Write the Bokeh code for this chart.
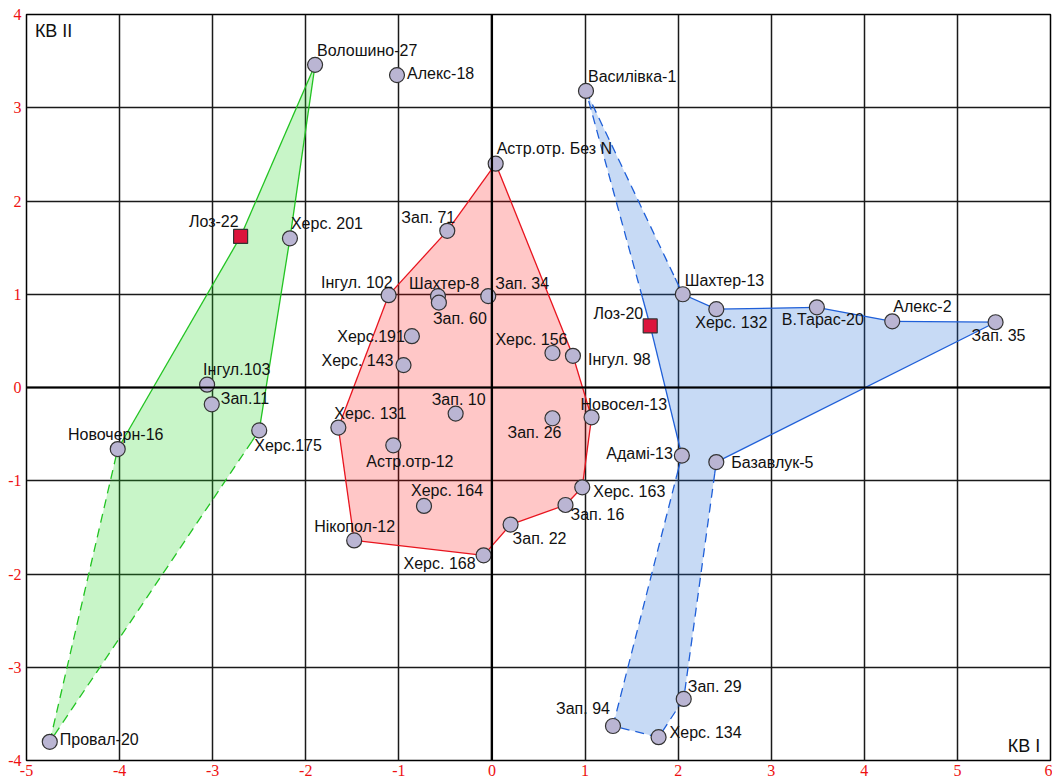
from bokeh.plotting import figure
from bokeh.models import ColumnDataSource, FixedTicker, Span, Label, Range1d, CustomJSTickFormatter
from bokeh.core.properties import value
from bokeh.embed import file_html
from bokeh.resources import INLINE

# ---------------- data ----------------
x_ticks = [-5, -4, -3, -2, -1, 0, 1, 2, 3, 4, 5, 6]
y_ticks = [-4, -3, -2, -1, 0, 1, 2, 3, 4]

site_names = [
    "Волошино-27", "Херс. 201", "Лоз-22", "Інгул.103", "Зап.11", "Херс.175",
    "Новочерн-16", "Провал-20", "Алекс-18",
    "Астр.отр. Без N", "Зап. 71", "Інгул. 102", "Шахтер-8", "Зап. 60", "Зап. 34",
    "Херс.191", "Херс. 143", "Херс. 156", "Інгул. 98", "Зап. 10", "Зап. 26",
    "Новосел-13", "Херс. 131", "Астр.отр-12", "Херс. 164", "Нікопол-12",
    "Херс. 168", "Зап. 22", "Зап. 16", "Херс. 163",
    "Василівка-1", "Лоз-20", "Шахтер-13", "Херс. 132", "В.Тарас-20", "Алекс-2",
    "Зап. 35", "Базавлук-5", "Адамі-13", "Зап. 29", "Херс. 134", "Зап. 94",
]
kv1 = [
    -1.90, -2.17, -2.70, -3.06, -3.01, -2.50, -4.02, -4.75, -1.02,
    0.04, -0.48, -1.11, -0.58, -0.57, -0.04, -0.86, -0.95, 0.65, 0.87, -0.39, 0.65,
    1.07, -1.65, -1.06, -0.73, -1.48, -0.09, 0.20, 0.79, 0.97,
    1.01, 1.70, 2.05, 2.41, 3.49, 4.30, 5.41, 2.41, 2.04, 2.06, 1.79, 1.30,
]
kv2 = [
    3.46, 1.60, 1.62, 0.03, -0.18, -0.46, -0.66, -3.80, 3.35,
    2.40, 1.68, 0.99, 0.98, 0.91, 0.98, 0.55, 0.24, 0.37, 0.34, -0.28, -0.33,
    -0.32, -0.43, -0.62, -1.27, -1.64, -1.80, -1.47, -1.26, -1.07,
    3.18, 0.66, 1.00, 0.84, 0.86, 0.71, 0.70, -0.80, -0.73, -3.34, -3.75, -3.63,
]
square_sites = ["Лоз-22", "Лоз-20"]

green_outline = ["Волошино-27", "Херс. 201", "Херс.175", "Провал-20", "Новочерн-16", "Лоз-22"]
red_outline = ["Астр.отр. Без N", "Інгул. 98", "Новосел-13", "Херс. 163", "Зап. 16", "Зап. 22",
               "Херс. 168", "Нікопол-12", "Херс. 131", "Інгул. 102", "Зап. 71"]
blue_outline = ["Василівка-1", "Шахтер-13", "Херс. 132", "В.Тарас-20", "Алекс-2", "Зап. 35",
                "Базавлук-5", "Зап. 29", "Херс. 134", "Зап. 94", "Адамі-13", "Лоз-20"]

# edge styles (style): (dashed?, solid fraction at start, solid fraction at end)
green_edges = [(False, 0, 0), (False, 0, 0), (True, 0.035, 0), (True, 0, 0), (False, 0, 0), (False, 0, 0)]
red_edges = [(False, 0, 0)] * len(red_outline)
blue_edges = [(True, 0, 0.08), (False, 0, 0), (False, 0, 0), (False, 0, 0), (False, 0, 0), (False, 0, 0),
              (True, 0.05, 0), (True, 0, 0), (True, 0, 0), (True, 0, 0.08), (False, 0, 0), (True, 0.12, 0)]

# label placement (style): alignment and pixel offsets
label_style = {
    "Волошино-27": ("left", 2, -14), "Херс. 201": ("left", 1, -15), "Лоз-22": ("right", -2, -15),
    "Інгул.103": ("left", -4, -15), "Зап.11": ("left", 9, -6), "Херс.175": ("left", -5, 15),
    "Новочерн-16": ("center", -2, -15), "Провал-20": ("left", 10, -2), "Алекс-18": ("left", 10, -2),
    "Астр.отр. Без N": ("left", 1, -15), "Зап. 71": ("right", 8, -13), "Інгул. 102": ("right", 4, -13),
    "Шахтер-8": ("left", -29, -13), "Зап. 60": ("left", -6, 16), "Зап. 34": ("left", 7, -13),
    "Херс.191": ("right", -7, 0), "Херс. 143": ("right", -10, -5), "Херс. 156": ("right", 15, -13),
    "Інгул. 98": ("left", 15, 4), "Зап. 10": ("center", 3, -14), "Зап. 26": ("right", 9, 14),
    "Новосел-13": ("left", -11, -13), "Херс. 131": ("left", -4, -14), "Астр.отр-12": ("left", -27, 16),
    "Херс. 164": ("left", -13, -15), "Нікопол-12": ("left", -40, -14), "Херс. 168": ("right", -8, 8),
    "Зап. 22": ("left", 2, 14), "Зап. 16": ("left", 5, 10), "Херс. 163": ("left", 11, 4),
    "Василівка-1": ("left", 2, -14), "Лоз-20": ("right", -7, -12), "Шахтер-13": ("left", 2, -14),
    "Херс. 132": ("left", -21, 13), "В.Тарас-20": ("center", 6, 12), "Алекс-2": ("left", 1, -15),
    "Зап. 35": ("left", -24, 13), "Базавлук-5": ("left", 15, 0), "Адамі-13": ("right", -9, -2),
    "Зап. 29": ("left", 4, -12), "Херс. 134": ("left", 11, -5), "Зап. 94": ("right", -3, -17),
}

# ---------------- figure ----------------
p = figure(width=1052, height=780, output_backend="svg", toolbar_location=None,
           x_range=Range1d(-5, 6), y_range=Range1d(-4, 4),
           min_border_left=26, min_border_right=2, min_border_top=14, min_border_bottom=20)
p.background_fill_color = "white"
p.border_fill_color = "white"
p.outline_line_color = "black"
p.outline_line_width = 1.5

fmt = CustomJSTickFormatter(code="return tick.toString();")
for ax in (p.xaxis, p.yaxis):
    ax.axis_line_color = None
    ax.major_tick_line_color = None
    ax.minor_tick_line_color = None
    ax.major_tick_out = 0
    ax.major_tick_in = 0
    ax.minor_tick_out = 0
    ax.major_label_text_color = "#ee1111"
    ax.major_label_text_font = "Liberation Serif"
    ax.major_label_text_font_size = "16px"
    ax.formatter = fmt
p.xaxis.major_label_standoff = 4
p.yaxis.major_label_standoff = 5
p.xaxis.ticker = FixedTicker(ticks=x_ticks)
p.yaxis.ticker = FixedTicker(ticks=y_ticks)

p.xgrid.ticker = FixedTicker(ticks=x_ticks)
p.ygrid.ticker = FixedTicker(ticks=y_ticks)
for g in (p.xgrid, p.ygrid):
    g.grid_line_color = "#1a1a1a"
    g.grid_line_width = 1.5
    g.grid_line_alpha = 1.0

p.add_layout(Span(location=0, dimension="height", line_color="black", line_width=2.2))
p.add_layout(Span(location=0, dimension="width", line_color="black", line_width=2.2))

idx = {n: i for i, n in enumerate(site_names)}


def draw_region(outline, edges, fill, line, alpha):
    px = [kv1[idx[n]] for n in outline]
    py = [kv2[idx[n]] for n in outline]
    p.patch(px, py, fill_color=fill, fill_alpha=alpha, line_color=None)
    k = len(outline)
    for i in range(k):
        j = (i + 1) % k
        dashed, a, b = edges[i]
        x0, y0, x1, y1 = px[i], py[i], px[j], py[j]
        if not dashed:
            p.line([x0, x1], [y0, y1], line_color=line, line_width=1.3)
            continue
        xa, ya = x0 + (x1 - x0) * a, y0 + (y1 - y0) * a
        xb, yb = x0 + (x1 - x0) * (1 - b), y0 + (y1 - y0) * (1 - b)
        if a > 0:
            p.line([x0, xa], [y0, ya], line_color=line, line_width=1.3)
        if b > 0:
            p.line([xb, x1], [yb, y1], line_color=line, line_width=1.3)
        p.line([xa, xb], [ya, yb], line_color=line, line_width=1.3, line_dash="9 6")


draw_region(green_outline, green_edges, "#23d723", "#22c322", 0.25)
draw_region(red_outline, red_edges, "#ff0000", "#e8141e", 0.22)
draw_region(blue_outline, blue_edges, "#1f6bd7", "#1f5fd8", 0.25)

circ = ColumnDataSource(dict(
    x=[kv1[i] for i, n in enumerate(site_names) if n not in square_sites],
    y=[kv2[i] for i, n in enumerate(site_names) if n not in square_sites]))
sq = ColumnDataSource(dict(
    x=[kv1[idx[n]] for n in square_sites],
    y=[kv2[idx[n]] for n in square_sites]))
p.scatter("x", "y", source=circ, marker="circle", size=15,
          fill_color="#bab5d3", line_color="#333333", line_width=1.2)
p.scatter("x", "y", source=sq, marker="square", size=14,
          fill_color="#dc143c", line_color="#333333", line_width=1.2)

lab = ColumnDataSource(dict(
    x=kv1, y=kv2, text=site_names,
    align=[label_style[n][0] for n in site_names],
    dx=[label_style[n][1] for n in site_names],
    dy=[label_style[n][2] for n in site_names]))
p.text("x", "y", text="text", source=lab, x_offset="dx", y_offset="dy",
       text_align="align", text_baseline="middle",
       text_font=value("Liberation Sans"), text_font_size="16px", text_color="#111111")

p.add_layout(Label(x=-4.91, y=3.82, text="КВ II", text_baseline="middle", text_align="left",
                   text_font="Liberation Sans", text_font_size="18px", text_color="#111111"))
p.add_layout(Label(x=5.89, y=-3.84, text="КВ I", text_baseline="middle", text_align="right",
                   text_font="Liberation Sans", text_font_size="18px", text_color="#111111"))

open("out.html", "w").write(file_html(p, INLINE))
